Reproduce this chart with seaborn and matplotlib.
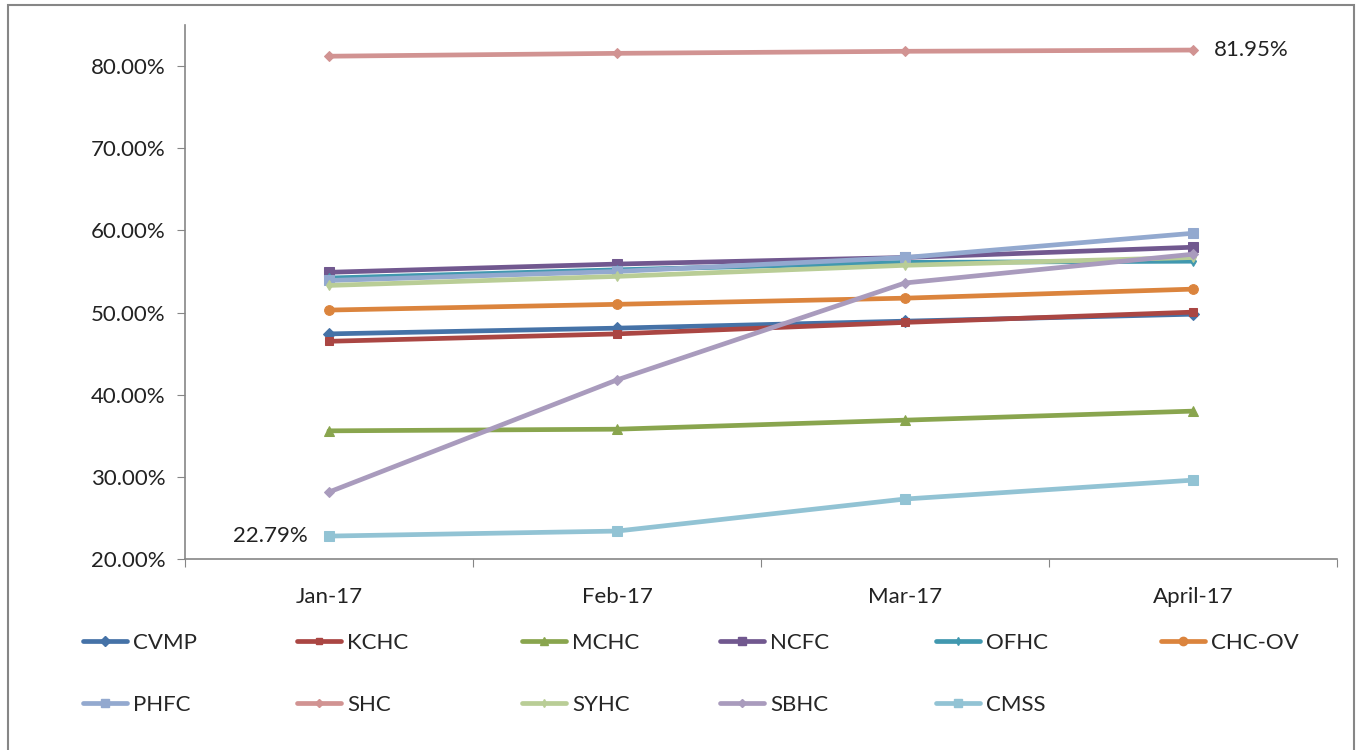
import matplotlib
matplotlib.use('Agg')
import matplotlib.pyplot as plt
import matplotlib.patches as patches
from matplotlib.ticker import FuncFormatter
import numpy as np
import pandas as pd
import seaborn as sns

# data
months = ['Jan-17', 'Feb-17', 'Mar-17', 'April-17']
clinics = ['CVMP', 'KCHC', 'MCHC', 'NCFC', 'OFHC', 'CHC-OV',
           'PHFC', 'SHC', 'SYHC', 'SBHC', 'CMSS']
cvmp = [47.4, 48.1, 48.95, 49.8]
kchc = [46.5, 47.4, 48.8, 50.05]
mchc = [35.6, 35.8, 36.9, 38.0]
ncfc = [54.9, 55.9, 56.7, 57.95]
ofhc = [54.2, 55.2, 56.1, 56.25]
chc_ov = [50.3, 51.0, 51.75, 52.85]
phfc = [53.9, 55.0, 56.7, 59.65]
shc = [81.2, 81.55, 81.8, 81.95]
syhc = [53.3, 54.4, 55.75, 56.7]
sbhc = [28.15, 41.8, 53.6, 57.1]
cmss = [22.79, 23.4, 27.3, 29.6]
series = [cvmp, kchc, mchc, ncfc, ofhc, chc_ov, phfc, shc, syhc, sbhc, cmss]

colors = ['#4572A7', '#AA4643', '#89A54E', '#71588F', '#4198AF', '#DB843D',
          '#93A9CF', '#D19392', '#B9CD96', '#A99BBD', '#92C3D4']
marks = ['D', 's', '^', 's', 'd', 'o', 's', 'D', 'd', 'D', 's']
sizes = [6, 6, 7, 7, 5, 7, 7, 5, 5, 5, 7]

rows = []
for name, vals in zip(clinics, series):
    for i, v in enumerate(vals):
        rows.append({'clinic': name, 'pos': i, 'month': months[i], 'value': v})
df = pd.DataFrame(rows)

sns.set_style('white')
plt.rcParams['font.family'] = ['Lato', 'DejaVu Sans']

fig = plt.figure(figsize=(13.58, 7.5), dpi=100)
ax = fig.add_axes([185/1358, 1-559/750, (1337-185)/1358, (559-25)/750])

sns.lineplot(data=df, x='pos', y='value', hue='clinic', hue_order=clinics,
             palette=colors, legend=False, ax=ax, linewidth=3.4)
for line, m, s, c in zip(ax.get_lines(), marks, sizes, colors):
    line.set_marker(m)
    line.set_markersize(s)
    line.set_markerfacecolor(c)
    line.set_markeredgecolor(c)
    line.set_solid_capstyle('round')

ax.set_xlim(-0.5, 3.5)
ax.set_ylim(20, 85)
ax.set_yticks([20, 30, 40, 50, 60, 70, 80])
ax.yaxis.set_major_formatter(FuncFormatter(lambda v, p: f'{v:.2f}%'))
ax.set_xticks([-0.5, 0.5, 1.5, 2.5, 3.5])
ax.set_xticklabels([])
ax.set_xticks(range(4), minor=True)
ax.set_xticklabels(months, minor=True)
ax.tick_params(axis='x', which='minor', length=0, labelsize=16, pad=20, colors='#222222')
ax.tick_params(axis='x', which='major', length=6, color='#868686', direction='out', bottom=True)
ax.tick_params(axis='y', length=6, direction='out', labelsize=16,
               pad=8, left=True)
ax.tick_params(axis='y', colors='#868686', labelcolor='#222222')
for side in ['top', 'right']:
    ax.spines[side].set_visible(False)
for side in ['left', 'bottom']:
    ax.spines[side].set_color('#868686')
    ax.spines[side].set_linewidth(1.2)
ax.set_xlabel('')
ax.set_ylabel('')

# data labels
ax.annotate(f'{shc[-1]:.2f}%', (3, shc[-1]), xytext=(15, 0), textcoords='offset points',
            ha='left', va='center', fontsize=16, color='#222222')
ax.annotate(f'{cmss[0]:.2f}%', (0, cmss[0]), xytext=(-15, 0), textcoords='offset points',
            ha='right', va='center', fontsize=16, color='#222222')

# legend: 6 columns, 2 rows
col_x = [83, 297, 522, 720, 936, 1161]
for j, x in enumerate(col_x):
    idx = [k for k in (j, j + 6) if k < len(clinics)]
    handles = []
    for k in idx:
        h = plt.Line2D([], [], color=colors[k], linewidth=3.4, marker=marks[k],
                       markersize=sizes[k] - 1, solid_capstyle='round')
        handles.append(h)
    fig.legend(handles, [clinics[k] for k in idx], loc='upper left',
               bbox_to_anchor=(x/1358, 1-633/750), frameon=False, fontsize=16,
               handlelength=2.0, handletextpad=0.25, labelspacing=1.9,
               borderpad=0, borderaxespad=0)

fig.patches.append(patches.Rectangle((8/1358, -0.01), (1354-8)/1358, 1.01 - 5/750,
                                     transform=fig.transFigure, fill=False,
                                     edgecolor='#868686', linewidth=1.5))

fig.savefig('out.png', dpi=100)
